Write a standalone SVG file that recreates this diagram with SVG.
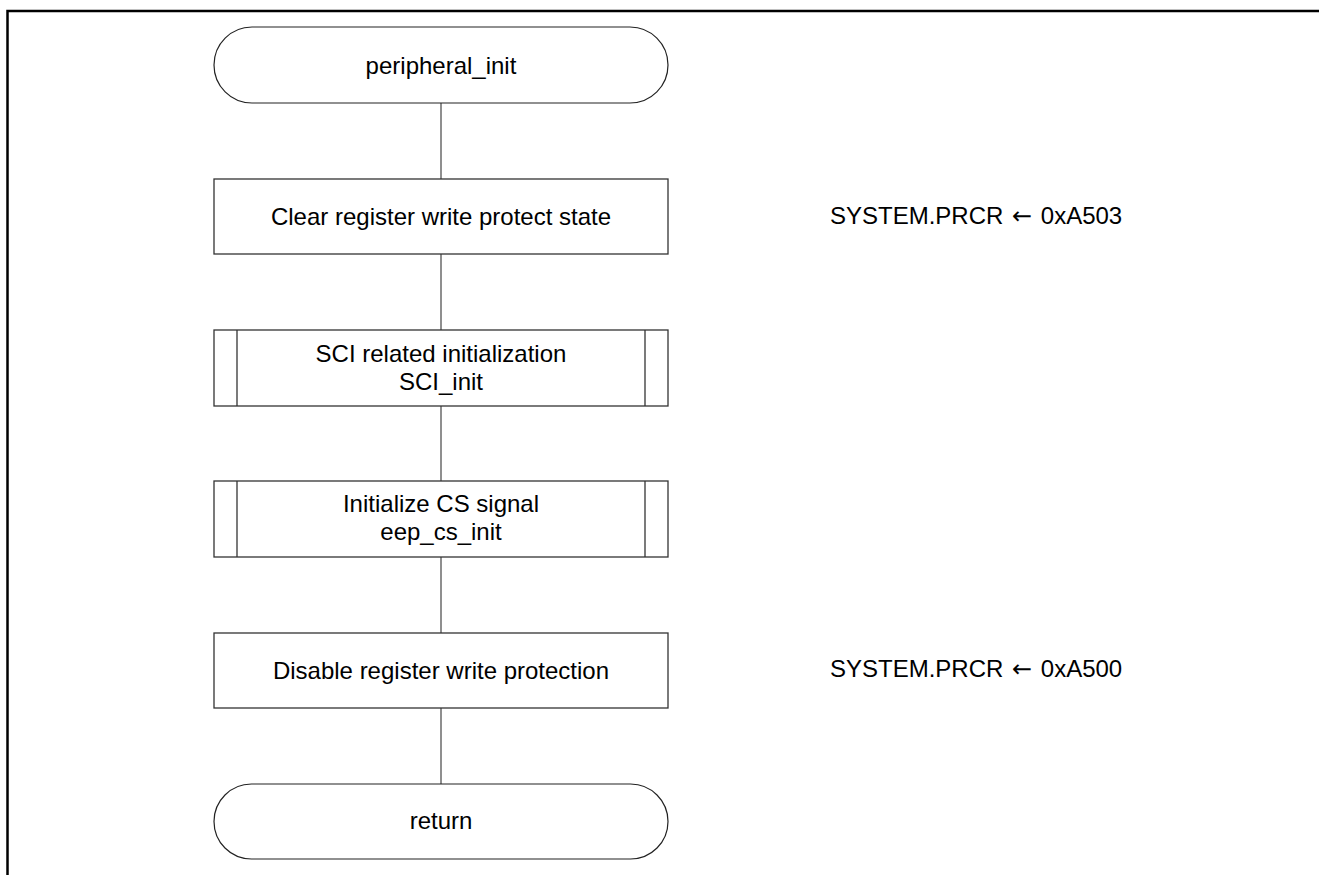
<svg xmlns="http://www.w3.org/2000/svg" width="1319" height="875" viewBox="0 0 1319 875">
  <style>
    .frame { stroke: #000; stroke-width: 2.5; fill: none; }
    .term { fill: #fff; stroke: #222; stroke-width: 1.2; }
    .box { fill: #fff; stroke: #333; stroke-width: 1.3; }
    .bar { stroke: #333; stroke-width: 1.3; }
    .flow { stroke: #6a6a6a; stroke-width: 1.5; fill: none; }
    text { font-family: "Liberation Sans", Arial, sans-serif; font-size: 24px; fill: #000; }
    .c { text-anchor: middle; }
    .arrow { font-family: "DejaVu Sans", sans-serif; }
  </style>
  <rect width="1319" height="875" fill="#fff"/>

  <!-- page frame -->
  <path class="frame" d="M1319 11 H7.5 V875"/>

  <!-- connectors -->
  <g id="connectors">
    <line class="flow" x1="441" y1="103" x2="441" y2="179"/>
    <line class="flow" x1="441" y1="254" x2="441" y2="330"/>
    <line class="flow" x1="441" y1="406" x2="441" y2="481"/>
    <line class="flow" x1="441" y1="557" x2="441" y2="633"/>
    <line class="flow" x1="441" y1="708" x2="441" y2="784"/>
  </g>

  <g id="start">
    <rect class="term" x="214" y="27" width="454" height="76" rx="38" ry="38"/>
    <text class="c" x="441" y="73.5">peripheral_init</text>
  </g>

  <g id="clear-protect">
    <rect class="box" x="214" y="179" width="454" height="75"/>
    <text class="c" x="441" y="225">Clear register write protect state</text>
  </g>

  <g id="sci-init">
    <rect class="box" x="214" y="330" width="454" height="76"/>
    <line class="bar" x1="237" y1="330" x2="237" y2="406"/>
    <line class="bar" x1="645" y1="330" x2="645" y2="406"/>
    <text class="c" x="441" y="361.5">SCI related initialization</text>
    <text class="c" x="441" y="390">SCI_init</text>
  </g>

  <g id="cs-init">
    <rect class="box" x="214" y="481" width="454" height="76"/>
    <line class="bar" x1="237" y1="481" x2="237" y2="557"/>
    <line class="bar" x1="645" y1="481" x2="645" y2="557"/>
    <text class="c" x="441" y="512">Initialize CS signal</text>
    <text class="c" x="441" y="540">eep_cs_init</text>
  </g>

  <g id="disable-protect">
    <rect class="box" x="214" y="633" width="454" height="75"/>
    <text class="c" x="441" y="679">Disable register write protection</text>
  </g>

  <g id="return">
    <rect class="term" x="214" y="784" width="454" height="75" rx="37.5" ry="37.5"/>
    <text class="c" x="441" y="829">return</text>
  </g>

  <!-- register notes -->
  <g id="note-a503">
    <text x="830" y="223.5">SYSTEM.PRCR <tspan class="arrow" dx="2">←</tspan><tspan dx="2"> 0xA503</tspan></text>
  </g>
  <g id="note-a500">
    <text x="830" y="677">SYSTEM.PRCR <tspan class="arrow" dx="2">←</tspan><tspan dx="2"> 0xA500</tspan></text>
  </g>
</svg>
